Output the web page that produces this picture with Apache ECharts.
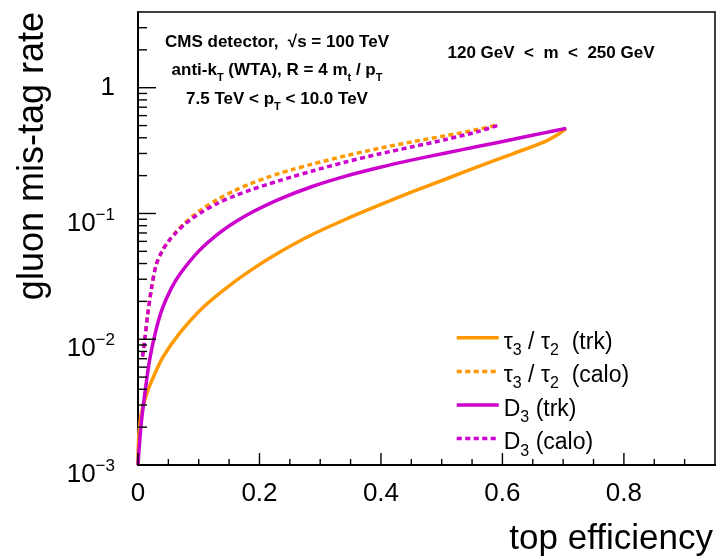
<!DOCTYPE html>
<html>
<head>
<meta charset="utf-8">
<script src="https://cdn.jsdelivr.net/npm/echarts@6/dist/echarts.min.js"></script>
<style>
  html, body { margin: 0; padding: 0; background: #fff; }
  #chart { width: 717px; height: 558px; }
</style>
</head>
<body>
<div id="chart"></div>
<script>
// ROC curves: top-tagging efficiency vs gluon mis-tag rate
const effTau32Trk = [0, 0.0005, 0.002, 0.005, 0.012, 0.022, 0.041, 0.068, 0.107, 0.150, 0.194, 0.233, 0.287, 0.342, 0.397, 0.452, 0.507, 0.561, 0.616, 0.671, 0.690, 0.705];
const misTau32Trk = [0.001, 0.0014, 0.0019, 0.0025, 0.0034, 0.0046, 0.0072, 0.0111, 0.0179, 0.0266, 0.0376, 0.0492, 0.068, 0.090, 0.1165, 0.149, 0.188, 0.237, 0.297, 0.375, 0.420, 0.475];

const effTau32Calo = [0.0075, 0.011, 0.016, 0.022, 0.030, 0.040, 0.050, 0.062, 0.076, 0.092, 0.104, 0.131, 0.159, 0.186, 0.213, 0.233, 0.252, 0.287, 0.342, 0.397, 0.452, 0.507, 0.561, 0.594];
const misTau32Calo = [0.0073, 0.0098, 0.0158, 0.025, 0.0392, 0.0505, 0.060, 0.0708, 0.0832, 0.0971, 0.1073, 0.1293, 0.1519, 0.1730, 0.1935, 0.2084, 0.2220, 0.247, 0.2877, 0.3295, 0.3717, 0.4154, 0.4676, 0.5084];

const effD3Trk = [0, 0.003, 0.006, 0.011, 0.019, 0.029, 0.040, 0.055, 0.070, 0.100, 0.130, 0.160, 0.190, 0.233, 0.287, 0.342, 0.397, 0.452, 0.507, 0.561, 0.616, 0.671, 0.705];
const misD3Trk = [0.001, 0.0016, 0.0023, 0.0036, 0.0068, 0.0115, 0.0175, 0.0255, 0.0335, 0.0502, 0.0676, 0.0855, 0.1037, 0.1302, 0.1638, 0.198, 0.232, 0.2667, 0.3027, 0.342, 0.3873, 0.4395, 0.475];

const effD3Calo = [0.0075, 0.011, 0.016, 0.022, 0.030, 0.040, 0.050, 0.062, 0.076, 0.092, 0.104, 0.131, 0.159, 0.186, 0.213, 0.233, 0.252, 0.287, 0.342, 0.397, 0.452, 0.507, 0.561, 0.594];
const misD3Calo = [0.0073, 0.0098, 0.0158, 0.025, 0.0392, 0.0505, 0.0598, 0.0700, 0.0815, 0.0935, 0.1020, 0.1204, 0.1379, 0.1542, 0.1703, 0.1825, 0.1945, 0.2178, 0.2567, 0.297, 0.3393, 0.3875, 0.4498, 0.5041];

// Axis ranges and tick marks
const xRange = [0, 0.95];
const yRange = [0.001, 4];
const xMajorTicks = [0, 0.2, 0.4, 0.6, 0.8];
const xMinorTicks = [0.05, 0.1, 0.15, 0.25, 0.3, 0.35, 0.45, 0.5, 0.55, 0.65, 0.7, 0.75, 0.85, 0.9];
const yMajorTicks = [0.001, 0.01, 0.1, 1];
const yMinorTicks = [0.002, 0.003, 0.004, 0.005, 0.006, 0.007, 0.008, 0.009,
                     0.02, 0.03, 0.04, 0.05, 0.06, 0.07, 0.08, 0.09,
                     0.2, 0.3, 0.4, 0.5, 0.6, 0.7, 0.8, 0.9,
                     2, 3];

const seriesNames = ['tau32 (trk)', 'tau32 (calo)', 'D3 (trk)', 'D3 (calo)'];
const legendLabels = {
  'tau32 (trk)':  '{b|τ}{s|3}{b| / τ}{s|2}{b|  (trk)}',
  'tau32 (calo)': '{b|τ}{s|3}{b| / τ}{s|2}{b|  (calo)}',
  'D3 (trk)':     '{b|D}{s|3}{b| (trk)}',
  'D3 (calo)':    '{b|D}{s|3}{b| (calo)}'
};

const FONT = '"Liberation Sans", Arial, Helvetica, sans-serif';
const ORANGE = '#ff9900';
const MAGENTA = '#cc00cc';
const DOTS = [5, 3.5];

function zip(xs, ys) { return xs.map((x, i) => [x, ys[i]]); }

function curve(name, xs, ys, color, dashed) {
  return {
    name: name,
    type: 'line',
    data: zip(xs, ys),
    symbol: 'none',
    smooth: 0.3,
    clip: true,
    silent: true,
    lineStyle: { color: color, width: 3.5, type: dashed ? DOTS : 'solid', cap: 'butt' },
    itemStyle: { color: color },
    z: 3
  };
}

function tickSeries(values, isX, len) {
  return {
    type: 'custom',
    silent: true,
    data: values.map(v => isX ? [v, yRange[0]] : [xRange[0], v]),
    renderItem: function (params, api) {
      const p = api.coord([api.value(0), api.value(1)]);
      return {
        type: 'line',
        shape: isX ? { x1: p[0], y1: p[1], x2: p[0], y2: p[1] - len }
                   : { x1: p[0], y1: p[1], x2: p[0] + len, y2: p[1] },
        style: { stroke: '#000', lineWidth: 1.4 }
      };
    },
    z: 4
  };
}

const annoRich = {
  b: { fontFamily: FONT, fontWeight: 'bold', fontSize: 17, lineHeight: 22, verticalAlign: 'top', color: '#000' },
  s: { fontFamily: FONT, fontWeight: 'bold', fontSize: 11, lineHeight: 11, verticalAlign: 'bottom', color: '#000' }
};

function annotation(text, x, y) {
  return {
    type: 'text', x: x, y: y, silent: true, z: 10,
    style: { text: text, rich: annoRich, align: 'center', verticalAlign: 'middle',
             textAlign: 'center', textVerticalAlign: 'middle' }
  };
}

const chart = echarts.init(document.getElementById('chart'), null, { renderer: 'canvas' });

chart.setOption({
  animation: false,
  backgroundColor: '#fff',
  grid: {
    left: 138, right: 2, top: 12, bottom: 93,
    show: true, borderColor: '#000', borderWidth: 1.5,
    containLabel: false, outerBoundsMode: 'none'
  },
  xAxis: {
    type: 'value', min: xRange[0], max: xRange[1], interval: 0.2,
    axisLine: { show: true, onZero: false, lineStyle: { color: '#000', width: 2 } },
    axisTick: { show: false },
    splitLine: { show: false },
    axisLabel: {
      color: '#000', fontFamily: FONT, fontSize: 26, margin: 16,
      showMaxLabel: false,
      formatter: function (v) {
        const k = v / 0.2;
        return Math.abs(k - Math.round(k)) < 1e-6 ? String(Math.round(v * 10) / 10) : '';
      }
    }
  },
  yAxis: {
    type: 'log', logBase: 10, min: yRange[0], max: yRange[1],
    axisLine: { show: true, onZero: false, lineStyle: { color: '#000', width: 2 } },
    axisTick: { show: false },
    splitLine: { show: false },
    minorTick: { show: false },
    axisLabel: {
      color: '#000', margin: 23, showMaxLabel: false,
      formatter: function (v) {
        const e = Math.round(Math.log10(v));
        if (Math.abs(Math.log10(v) - e) > 1e-6) return '';
        if (e === 0) return '{c|1}';
        return '{b|10}{p|\u2212' + Math.abs(e) + '}';
      },
      rich: {
        c: { fontFamily: FONT, fontSize: 26, lineHeight: 30, color: '#000' },
        b: { fontFamily: FONT, fontSize: 26, lineHeight: 26, padding: [10, 0, 0, 0], verticalAlign: 'top', color: '#000' },
        p: { fontFamily: FONT, fontSize: 17, lineHeight: 17, padding: [6, 0, 0, 0], verticalAlign: 'top', color: '#000' }
      }
    }
  },
  legend: {
    data: seriesNames,
    orient: 'vertical',
    left: 455, top: 325,
    padding: 0,
    itemWidth: 42, itemHeight: 32, itemGap: 0.3,
    selectedMode: false,
    itemStyle: { opacity: 0 },
    lineStyle: { width: 3.5, opacity: 1 },
    formatter: function (name) { return legendLabels[name]; },
    textStyle: {
      color: '#000', fontFamily: FONT, fontSize: 23,
      rich: {
        b: { fontFamily: FONT, fontSize: 23, lineHeight: 23, padding: [4.5, 0, 4.5, 0], verticalAlign: 'top', color: '#000' },
        s: { fontFamily: FONT, fontSize: 16, lineHeight: 16, padding: [16, 0, 0, 0], verticalAlign: 'top', color: '#000' }
      }
    }
  },
  graphic: [
    {
      type: 'text', x: 51, y: 12, rotation: Math.PI / 2, silent: true,
      style: { text: 'gluon mis-tag rate', font: '36px ' + FONT, fill: '#000',
               align: 'right', verticalAlign: 'bottom', textAlign: 'right', textVerticalAlign: 'bottom' }
    },
    {
      type: 'text', x: 713, y: 557, silent: true,
      style: { text: 'top efficiency', font: '35px ' + FONT, fill: '#000',
               align: 'right', verticalAlign: 'bottom', textAlign: 'right', textVerticalAlign: 'bottom' }
    },
    annotation('{b|CMS detector,  √s = 100 TeV}', 277, 44.5),
    annotation('{b|anti-k}{s|T}{b| (WTA), R = 4 m}{s|t}{b| / p}{s|T}', 277, 72.5),
    annotation('{b|7.5 TeV < p}{s|T}{b| < 10.0 TeV}', 277, 101.5),
    annotation('{b|120 GeV  <  m  <  250 GeV}', 551, 56)
  ],
  series: [
    curve(seriesNames[0], effTau32Trk, misTau32Trk, ORANGE, false),
    curve(seriesNames[1], effTau32Calo, misTau32Calo, ORANGE, true),
    curve(seriesNames[2], effD3Trk, misD3Trk, MAGENTA, false),
    curve(seriesNames[3], effD3Calo, misD3Calo, MAGENTA, true),
    tickSeries(xMajorTicks, true, 12),
    tickSeries(xMinorTicks, true, 6),
    tickSeries(yMajorTicks, false, 18),
    tickSeries(yMinorTicks, false, 9)
  ]
});
</script>
</body>
</html>
